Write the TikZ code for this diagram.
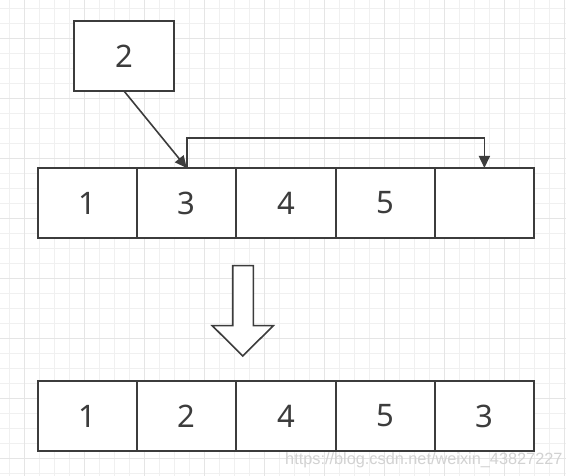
\documentclass[tikz,border=0pt]{standalone}
\usepackage{fontspec}
\setmainfont{Noto Sans}
\usetikzlibrary{arrows.meta,positioning}

\begin{document}
\begin{tikzpicture}[
    x=1pt,y=1pt,
    node distance=0pt and 0pt,
    cell/.style={draw=boxgray,line width=2pt,fill=white,minimum width=99.2pt,minimum height=70pt,
      inner sep=0pt,outer sep=0pt,font=\fontsize{31}{36}\selectfont,text=boxgray},
    arrow/.style={-{Triangle[length=12pt,width=11pt]},draw=boxgray,line width=1.6pt},
    minor/.style={draw=gray!12,line width=0.9pt},
    major/.style={draw=gray!20,line width=1pt}
  ]
    \definecolor{boxgray}{HTML}{3C3C3C}
    \useasboundingbox (0,0) rectangle (566,-476);
    \fill[white] (0,0) rectangle (566,-476);

    % background grid
    \foreach \i in {0,...,37} {
      \draw[minor] (9.3+15*\i,0) -- (9.3+15*\i,-476);
      \draw[minor] (0,-8.3-15*\i) -- (566,-8.3-15*\i);
    }
    \foreach \i in {0,...,9} {
      \draw[major] (24.3+60*\i,0) -- (24.3+60*\i,-476);
      \draw[major] (0,-38.3-60*\i) -- (566,-38.3-60*\i);
    }

    % element to insert
    \node[cell] (ins) at (124,-56) {2};

    % row before
    \node[cell] (a1) at (87.6,-203) {1};
    \node[cell,right=of a1] (a3) {3};
    \node[cell,right=of a3] (a4) {4};
    \node[cell,right=of a4] (a5) {5};
    \node[cell,right=of a5] (a6) {};

    % row after
    \node[cell] (b1) at (87.6,-416) {1};
    \node[cell,right=of b1] (b2) {2};
    \node[cell,right=of b2] (b4) {4};
    \node[cell,right=of b4] (b5) {5};
    \node[cell,right=of b5] (b3) {3};

    \draw[arrow] (ins.south) -- (a3.north);
    \draw[arrow] (a3.north) -- ++(0,30) -| (a6.north);

    % hollow down arrow
    \draw[boxgray,line width=1.6pt,fill=white,line join=miter]
      (232.7,-265.7) -- (253.3,-265.7) -- (253.3,-325.7) -- (273.3,-325.7)
      -- (242.7,-356) -- (212.3,-325.7) -- (232.7,-325.7) -- cycle;

    \node[text=gray!35,font=\fontsize{16.3}{18}\selectfont\fontspec{Liberation Sans},anchor=west,inner sep=0pt]
      (wm) at (285,-460) {https://blog.csdn.net/weixin\_43827227};
  \end{tikzpicture}
\end{document}
